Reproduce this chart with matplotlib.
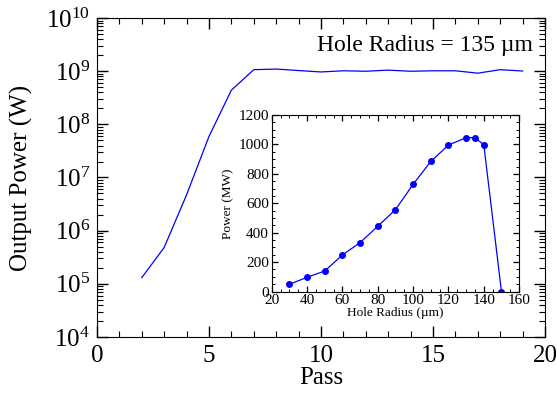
import numpy as np
import matplotlib
matplotlib.use("Agg")
import matplotlib.pyplot as plt
from matplotlib.ticker import MultipleLocator, LogLocator, NullFormatter

plt.rcParams['font.family'] = ['Liberation Serif', 'DejaVu Serif']
plt.rcParams['mathtext.fontset'] = 'custom'
plt.rcParams['mathtext.rm'] = 'Liberation Serif'
plt.rcParams['mathtext.it'] = 'Liberation Serif:italic'

# output power per pass, 135 um hole
passes = [2, 3, 4, 5, 6, 7, 8, 9, 10, 11, 12, 13, 14, 15, 16, 17, 18, 19]
power_w = [1.3e5, 4.8e5, 4.7e6, 5.9e7, 4.4e8, 1.07e9, 1.1e9, 1.03e9, 0.97e9,
           1.02e9, 1.0e9, 1.05e9, 1.0e9, 1.02e9, 1.02e9, 0.92e9, 1.07e9, 1.01e9]

# final power vs hole radius
radius_um = [30, 40, 50, 60, 70, 80, 90, 100, 110, 120, 130, 135, 140, 150]
power_mw = [50, 97, 140, 249, 333, 444, 557, 729, 885, 996, 1046, 1046, 998, 0]

blue = '#0000ff'

fig = plt.figure(figsize=(5.57, 3.94), dpi=100)
ax = fig.add_axes([0.174, 0.145, 0.8045, 0.809])
ax.semilogy(passes, power_w, color=blue, lw=0.9)
ax.set_xlim(0, 20)
ax.set_ylim(1e4, 1e10)
ax.xaxis.set_major_locator(MultipleLocator(5))
ax.xaxis.set_minor_locator(MultipleLocator(1))
ax.yaxis.set_major_locator(LogLocator(base=10, numticks=10))
ax.yaxis.set_minor_locator(LogLocator(base=10, subs=np.arange(2, 10), numticks=20))
ax.yaxis.set_minor_formatter(NullFormatter())
ax.tick_params(which='both', direction='in', top=True, right=True, labelsize=18)
ax.tick_params(which='major', length=8, width=1)
ax.tick_params(which='minor', length=4, width=0.8)
ax.tick_params(axis='x', pad=6)
ax.tick_params(axis='y', pad=5)
ax.set_xlabel('Pass', fontsize=18, labelpad=0)
ax.set_ylabel('Output Power (W)', fontsize=18, labelpad=9)
ax.text(0.973, 0.915, 'Hole Radius = 135 µm', transform=ax.transAxes,
        ha='right', va='center', fontsize=17)

ins = fig.add_axes([0.488, 0.26, 0.444, 0.448])
ins.plot(radius_um, power_mw, color=blue, lw=0.9, marker='o', ms=4)
ins.set_xlim(20, 160)
ins.set_ylim(0, 1200)
ins.xaxis.set_major_locator(MultipleLocator(20))
ins.xaxis.set_minor_locator(MultipleLocator(5))
ins.yaxis.set_major_locator(MultipleLocator(200))
ins.yaxis.set_minor_locator(MultipleLocator(50))
ins.tick_params(which='both', direction='in', top=True, right=True, labelsize=11, pad=2)
ins.tick_params(which='major', length=4, width=0.9)
ins.tick_params(which='minor', length=2, width=0.7)
ins.set_xlabel('Hole Radius (µm)', fontsize=9.5, labelpad=0)
ins.set_ylabel('Power (MW)', fontsize=9.5, labelpad=3)

fig.savefig('out.png', dpi=100)
